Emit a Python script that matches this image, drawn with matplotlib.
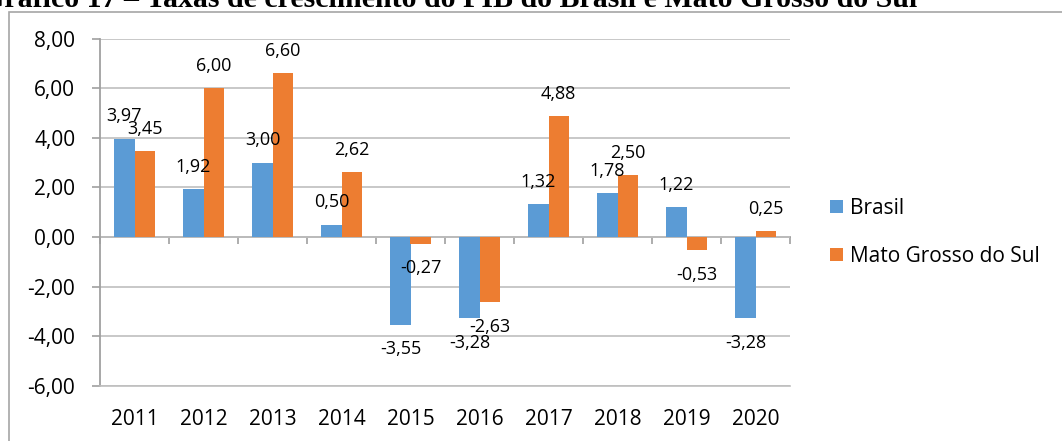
import numpy as np
import matplotlib
matplotlib.use("Agg")
import matplotlib.pyplot as plt
from matplotlib.patches import Rectangle
from matplotlib.ticker import FuncFormatter

# PIB growth rates (%)
anos = ["2011", "2012", "2013", "2014", "2015", "2016", "2017", "2018", "2019", "2020"]
brasil = [3.97, 1.92, 3.00, 0.50, -3.55, -3.28, 1.32, 1.78, 1.22, -3.28]
ms = [3.45, 6.00, 6.60, 2.62, -0.27, -2.63, 4.88, 2.50, -0.53, 0.25]
series_names = ["Brasil", "Mato Grosso do Sul"]
colors = ["#5B9BD5", "#ED7D31"]

W, H = 1062, 441
plt.rcParams["font.family"] = ["Open Sans", "DejaVu Sans"]
fig = plt.figure(figsize=(W / 100, H / 100), dpi=100)
ax = fig.add_axes([100 / W, 1 - 386 / H, 690 / W, 347.5 / H])

def br(v):
    return f"{v:.2f}".replace(".", ",")

x = np.arange(len(anos))
bw = 0.29
grid_c = "#BFBFBF"
axis_c = "#A0A0A0"

for i, (vals, name, c) in enumerate(zip([brasil, ms], series_names, colors)):
    pos = x + (i - 0.5) * bw
    ax.bar(pos, vals, bw, color=c, label=name, zorder=3)
    for xp, v in zip(pos, vals):
        off = 16 if v >= 0 else -17.5
        ax.annotate(br(v), (xp, v), xytext=(0, off), textcoords="offset points",
                    ha="center", va="center", fontsize=13, color="black", zorder=4)

ax.set_xlim(-0.5, len(anos) - 0.5)
ax.set_ylim(-6, 8)
ax.set_yticks(np.arange(-6, 9, 2))
ax.yaxis.set_major_formatter(FuncFormatter(lambda v, p: br(v)))
ax.grid(axis="y", color=grid_c, lw=1.2, zorder=0)
ax.set_axisbelow(True)

ax.set_xticks(x)
ax.set_xticklabels(anos)
ax.tick_params(axis="x", length=0, pad=16.5, labelsize=15)
ax.tick_params(axis="y", length=5.8, width=1.2, color=axis_c, pad=12, labelsize=15)

for s in ["top", "right"]:
    ax.spines[s].set_visible(False)
ax.spines["bottom"].set_color(grid_c)
ax.spines["bottom"].set_linewidth(1.2)
ax.spines["left"].set_color(axis_c)
ax.spines["left"].set_linewidth(1.3)

# zero line with category tick marks
sec = ax.secondary_xaxis(0, transform=ax.transData)
sec.set_xticks(np.arange(-0.5, len(anos), 1))
sec.tick_params(axis="x", length=5, width=1.2, color=axis_c, labelbottom=False)
sec.spines["bottom"].set_color(axis_c)
sec.spines["bottom"].set_linewidth(1.3)

fig.legend(loc="center left", bbox_to_anchor=(830 / W, 1 - 232.5 / H), frameon=False,
           fontsize=15, handlelength=0.62, handleheight=0.62, handletextpad=0.33,
           labelspacing=1.3, borderpad=0, borderaxespad=0)

# outer frame of the figure block (cropped)
fig.add_artist(Rectangle((9 / W, -0.1), 1.2, 1.1 - 12 / H, transform=fig.transFigure,
                         fill=False, edgecolor="#A6A6A6", lw=1.2))

fig.text(917 / W, 1 - 7 / H,
         "Gráfico 17 – Taxas de crescimento do PIB do Brasil e Mato Grosso do Sul",
         ha="right", va="baseline", fontsize=21.5, fontweight="bold",
         family=["Liberation Serif", "DejaVu Serif"])

fig.savefig("out.png", dpi=100)
